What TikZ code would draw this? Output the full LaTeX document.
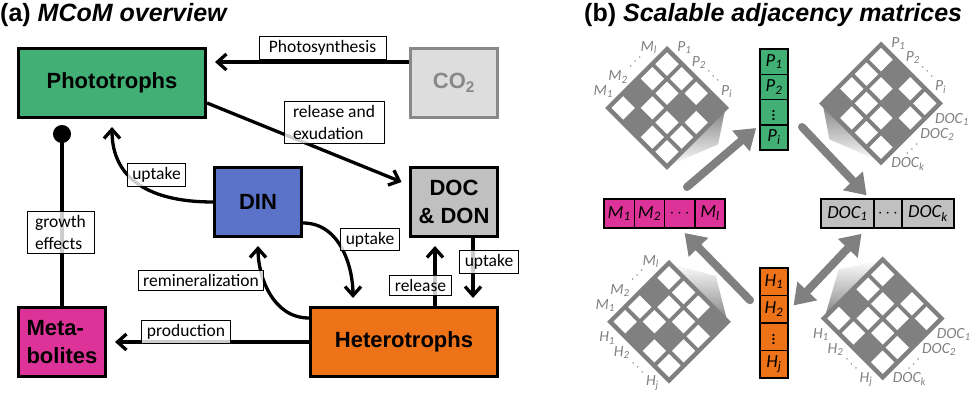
\documentclass[tikz,border=0pt]{standalone}
\usepackage{fontspec}
\setmainfont{Liberation Sans}
\newfontfamily\carlito{Carlito}
\usetikzlibrary{arrows.meta}
\definecolor{PhotoGreen}{RGB}{66,176,117}
\definecolor{CotwoFill}{RGB}{221,221,221}
\definecolor{CotwoLine}{RGB}{136,136,136}
\definecolor{DinBlue}{RGB}{90,114,200}
\definecolor{DocGray}{RGB}{192,192,192}
\definecolor{MetaPink}{RGB}{221,51,153}
\definecolor{HeteroOrange}{RGB}{237,114,24}
\definecolor{MatGray}{RGB}{128,128,128}

% 4x4 grid of an adjacency matrix, dark cells given as i/j
\newcommand{\adjgrid}[1]{%
  \fill[MatGray] (-0.12,-0.12) -- (4.12,-0.12) -- (4.12,4.12) -- (-0.12,4.12) -- cycle;
  \foreach \i in {0,...,3} \foreach \j in {0,...,3}
    \fill[white] (\i+0.1,\j+0.1) -- (\i+0.9,\j+0.1) -- (\i+0.9,\j+0.9) -- (\i+0.1,\j+0.9) -- cycle;
  \foreach \i/\j in {#1}
    \fill[MatGray] (\i,\j) -- (\i+1,\j) -- (\i+1,\j+1) -- (\i,\j+1) -- cycle;
}

\begin{document}
\begin{tikzpicture}[x=1pt,y=-1pt,
  box/.style={draw,line width=3pt,minimum width=87pt,minimum height=69pt,inner sep=0pt,align=center,font=\bfseries\fontsize{22}{28.5}\selectfont},
  flow/.style={line width=3.3pt,-{Straight Barb[length=9pt,width=16pt]},shorten >=8pt},
  lbl/.style={draw,line width=1pt,fill=white,fill opacity=0.8,text opacity=1,inner xsep=5pt,inner ysep=4pt,align=left,font=\carlito\fontsize{17.5}{22.5}\selectfont},
  vcell/.style={draw,line width=1.5pt,inner sep=0pt,outer sep=0pt,font=\carlito\itshape\fontsize{18.5}{20}\selectfont},
  mlbl/.style={inner sep=1pt,text=MatGray,font=\carlito\itshape\fontsize{15.5}{16}\selectfont},
  bigarrow/.style={draw=MatGray,line width=8pt,line cap=round,-{Triangle[length=20pt,width=26pt]}}]
  \useasboundingbox (0,0) rectangle (971,393);

  % titles
  \node[anchor=base west,inner sep=0pt,font=\bfseries\fontsize{25}{30}\selectfont] (titlea) at (0,21.5) {(a) \textit{MCoM overview}};
  \node[anchor=base west,inner sep=0pt,font=\bfseries\fontsize{25}{30}\selectfont] (titleb) at (584,21.5) {(b) \textit{Scalable adjacency matrices}};

  % (a) compartments
  \node[box,fill=PhotoGreen,minimum width=187pt] (photo) at (112,83) {Phototrophs};
  \node[box,fill=CotwoFill,draw=CotwoLine,text=CotwoLine] (co2) at (454,83) {CO\textsubscript{2}};
  \node[box,fill=DinBlue] (din) at (258,202) {DIN};
  \node[box,fill=DocGray] (doc) at (454,202) {DOC\\\& DON};
  \node[box,fill=MetaPink,align=left] (met) at (62,342) {Meta-\\bolites};
  \node[box,fill=HeteroOrange,minimum width=187pt] (het) at (404,342) {Heterotrophs};

  % fluxes
  \draw[flow] ([yshift=21pt]co2.west) -- ([yshift=21pt]photo.east);
  \draw[flow] ([yshift=-20pt]photo.east) -- ([yshift=17pt]doc.west);
  \draw[flow] (din.west) to[out=180,in=-90,looseness=1.2] (photo.south);
  \draw[flow] ([yshift=-21pt]din.east) to[out=0,in=90] ([xshift=-51pt]het.north);
  \draw[flow] ([yshift=24pt]het.west) to[out=180,in=-90] (din.south);
  \draw[flow] ([xshift=31pt]het.north) -- ([xshift=-19pt]doc.south);
  \draw[flow] ([xshift=19pt]doc.south) -- ([xshift=69pt]het.north);
  \draw[flow] (het.west) -- (met.east);
  \draw[line width=3.3pt,-{Circle[length=18pt]},shorten >=6pt] (met.north) -- ([xshift=-50pt]photo.south);

  \node[lbl,minimum width=127pt] (photosyn) at (322.5,48) {Photosynthesis};
  \node[lbl,minimum width=100pt] (relexu) at (334,122.5) {release and\\exudation};
  \node[lbl] (uptphoto) at (156.5,175) {uptake};
  \node[lbl] (upthet) at (370,239.5) {uptake};
  \node[lbl] (remin) at (201,280.5) {remineralization};
  \node[lbl] (release) at (420.5,285.5) {release};
  \node[lbl] (uptdoc) at (489,262) {uptake};
  \node[lbl] (prod) at (186,332) {production};
  \node[lbl,minimum width=67pt] (growth) at (60.5,232.5) {growth\\effects};

  % (b) state vectors
  \foreach \k/\t in {1/P\textsubscript{1},2/P\textsubscript{2},3/$\vdots$,4/P\textsubscript{i}}
    \node[vcell,fill=PhotoGreen,minimum width=28pt,minimum height=25.25pt] (p\k) at (774,{36.4+25.25*\k}) {\t};
  \foreach \k/\t in {1/H\textsubscript{1},2/H\textsubscript{2},3/$\vdots$,4/H\textsubscript{j}}
    \node[vcell,fill=HeteroOrange,minimum width=28pt,minimum height=27.5pt] (h\k) at (774,{254.25+27.5*\k}) {\t};
  \foreach \k/\t in {1/M\textsubscript{1},2/M\textsubscript{2},3/$\cdots$,4/M\textsubscript{l}}
    \node[vcell,fill=MetaPink,minimum width=30.25pt,minimum height=29pt] (m\k) at ({588.9+30.25*\k},213.5) {\t};
  \node[vcell,fill=DocGray,minimum width=53.3pt,minimum height=29pt] (dc1) at (847.4,213.5) {DOC\textsubscript{1}};
  \node[vcell,fill=DocGray,minimum width=27.7pt,minimum height=29pt] (dc2) at (887.9,213.5) {$\cdots$};
  \node[vcell,fill=DocGray,minimum width=52.3pt,minimum height=29pt] (dc3) at (927.9,213.5) {DOC\textsubscript{k}};

  % (b) matrices
  \begin{scope}[shift={(667,49.5)},x={(14.6pt,-14.6pt)},y={(-14.6pt,-14.6pt)}]
    \shade[top color=MatGray,bottom color=white] (4,0) -- (5,1.5) -- (4,4) -- cycle;
    \adjgrid{0/2,1/3,2/1,3/0}
    \foreach \k/\t in {0/M\textsubscript{l},2/M\textsubscript{2},3/M\textsubscript{1}}
      \node[mlbl,anchor=south east] (tlm\k) at (-0.12,\k+0.5) {\t};
    \node[mlbl,rotate=45] (tlmd) at (-0.65,1.5) {$\cdots$};
    \foreach \k/\t in {0/P\textsubscript{1},1/P\textsubscript{2},3/P\textsubscript{i}}
      \node[mlbl,anchor=south west] (tlp\k) at (\k+0.5,-0.12) {\t};
    \node[mlbl,rotate=-45] (tlpd) at (2.5,-0.65) {$\cdots$};
  \end{scope}

  \begin{scope}[shift={(881,45)},x={(14.6pt,-14.6pt)},y={(-14.6pt,-14.6pt)}]
    \shade[top color=MatGray,bottom color=white] (0,4) -- (1.46,5) -- (4,4) -- cycle;
    \adjgrid{0/3,1/0,2/1,3/2}
    \foreach \k/\t in {0/P\textsubscript{1},1/P\textsubscript{2},3/P\textsubscript{i}}
      \node[mlbl,anchor=south west] (trp\k) at (\k+0.5,-0.12) {\t};
    \node[mlbl,rotate=-45] (trpd) at (2.5,-0.65) {$\cdots$};
    \foreach \k/\t in {0/DOC\textsubscript{1},1/DOC\textsubscript{2},3/DOC\textsubscript{k}}
      \node[mlbl,anchor=north west] (trd\k) at (4.12,\k+0.5) {\t};
    \node[mlbl,rotate=45] (trdd) at (4.65,2.5) {$\cdots$};
  \end{scope}

  \begin{scope}[shift={(669,263.3)},x={(14.6pt,-14.6pt)},y={(-14.6pt,-14.6pt)}]
    \shade[top color=white,bottom color=MatGray] (0,0) -- (2.04,-1.17) -- (4,0) -- cycle;
    \adjgrid{0/1,1/3,2/2,3/0}
    \foreach \k/\t in {0/M\textsubscript{l},2/M\textsubscript{2},3/M\textsubscript{1}}
      \node[mlbl,anchor=south east] (blm\k) at (-0.12,\k+0.5) {\t};
    \node[mlbl,rotate=45] (blmd) at (-0.65,1.5) {$\cdots$};
    \foreach \k/\t in {0/H\textsubscript{1},1/H\textsubscript{2},3/H\textsubscript{j}}
      \node[mlbl,anchor=north east] (blh\k) at (\k+0.5,4.12) {\t};
    \node[mlbl,rotate=-45] (blhd) at (2.5,4.65) {$\cdots$};
  \end{scope}

  \begin{scope}[shift={(882.7,260)},x={(14.6pt,-14.6pt)},y={(-14.6pt,-14.6pt)}]
    \shade[top color=white,bottom color=MatGray] (0,0) -- (-1.19,1.82) -- (0,4) -- cycle;
    \adjgrid{0/2,1/0,2/3,3/1}
    \foreach \k/\t in {0/H\textsubscript{1},1/H\textsubscript{2},3/H\textsubscript{j}}
      \node[mlbl,anchor=north east] (brh\k) at (\k+0.5,4.12) {\t};
    \node[mlbl,rotate=-45] (brhd) at (2.5,4.65) {$\cdots$};
    \foreach \k/\t in {0/DOC\textsubscript{1},1/DOC\textsubscript{2},3/DOC\textsubscript{k}}
      \node[mlbl,anchor=north west] (brd\k) at (4.12,\k+0.5) {\t};
    \node[mlbl,rotate=45] (brdd) at (4.65,2.5) {$\cdots$};
  \end{scope}

  % (b) mapping arrows
  \coordinate (tlfoot) at (687,187);
  \coordinate (trfoot) at (802,127);
  \draw[bigarrow,shorten >=5pt] (tlfoot) -- (p4.north west);
  \draw[bigarrow,shorten >=5pt] (trfoot) -- ([xshift=-4pt]dc1.north east);
  \draw[bigarrow,shorten >=7pt] ([xshift=-10pt,yshift=9pt]h2.west) -- (m3.south);
  \draw[bigarrow,{Triangle[length=20pt,width=26pt]}-{Triangle[length=20pt,width=26pt]},shorten <=8pt,shorten >=8pt] ([xshift=-7pt]dc1.south east) -- ([yshift=-2pt]h2.east);
\end{tikzpicture}
\end{document}
